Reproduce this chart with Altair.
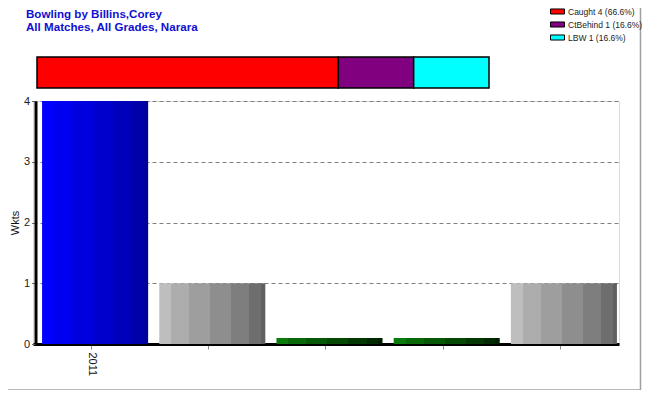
import altair as alt
import pandas as pd

categories = ["2011", " ", "  ", "   ", "    "]
wickets = [4, 1, 0.1, 0.1, 1]
blue_cats = ["2011"]
gray_cats = [" ", "    "]
green_cats = ["  ", "   "]

dismissal_labels = ["Caught 4 (66.6%)", "CtBehind 1 (16.6%)", "LBW 1 (16.6%)"]
dismissal_counts = [4, 1, 1]
dismissal_colors = ["#FF0000", "#800080", "#00FFFF"]

title_lines = ["Bowling by Billins,Corey", "All Matches, All Grades, Narara"]

FONT = "Liberation Sans"

bars = pd.DataFrame({"cat": categories, "wkts": wickets})
dis = pd.DataFrame({"kind": dismissal_labels, "n": dismissal_counts,
                    "order": list(range(len(dismissal_labels)))})


def stepped(colors, offsets):
    stops = []
    for i, c in enumerate(colors):
        stops.append(alt.GradientStop(offset=offsets[i], color=c))
        stops.append(alt.GradientStop(offset=offsets[i + 1], color=c))
    return alt.LinearGradient(gradient="linear", stops=stops, x1=0, x2=1, y1=0, y2=0)


offs = [0, 0.113, 0.283, 0.481, 0.679, 0.849, 0.959, 1]
blue_grad = stepped(["#0000FF", "#0000F0", "#0000DE", "#0000CC", "#0000BA", "#0000AA", "#00009C"], offs)
gray_grad = stepped(["#BEBEBE", "#ADADAD", "#9E9E9E", "#8E8E8E", "#7E7E7E", "#6E6E6E", "#606060"], offs)
green_grad = stepped(["#0A7A0A", "#076907", "#055805", "#044804", "#033803", "#022A02", "#011E01"], offs)

x_enc = alt.X(
    "cat:N", sort=categories,
    scale=alt.Scale(paddingInner=0.095, paddingOuter=0.0475),
    axis=alt.Axis(title=None, labelAngle=90, labelFontSize=11, labelColor="#111",
                  labelFont=FONT, domainColor="black", domainWidth=3,
                  tickColor="#888", tickSize=5, labelPadding=3, grid=False),
)
y_enc = alt.Y(
    "wkts:Q", scale=alt.Scale(domain=[0, 4], nice=False),
    axis=alt.Axis(title="Wkts", values=[0, 1, 2, 3, 4], format="d", grid=True,
                  gridDash=[4, 3], gridColor="#808080", gridWidth=1,
                  domainColor="black", domainWidth=3, tickColor="#666",
                  tickSize=4, offset=-2.5, labelFontSize=11, labelColor="#222",
                  labelFont=FONT, titleFont=FONT, titleFontSize=11,
                  titleFontWeight="normal", titleColor="#111", titlePadding=3),
)

base = alt.Chart(bars)
blue = base.mark_bar(color=blue_grad, xOffset=3.5).encode(x=x_enc, y=y_enc).transform_filter(
    alt.FieldOneOfPredicate(field="cat", oneOf=blue_cats))
gray = base.mark_bar(color=gray_grad, xOffset=3.5).encode(x=x_enc, y=y_enc).transform_filter(
    alt.FieldOneOfPredicate(field="cat", oneOf=gray_cats))
green = base.mark_bar(color=green_grad, xOffset=3.5).encode(x=x_enc, y=y_enc).transform_filter(
    alt.FieldOneOfPredicate(field="cat", oneOf=green_cats))

main = alt.layer(blue, gray, green)

stack = alt.Chart(dis).transform_stack(
    stack="n", groupby=[], as_=["x0", "x1"], sort=[alt.SortField("order", "ascending")]
).mark_bar(stroke="black", strokeWidth=1.5).encode(
    x=alt.X("x0:Q", scale=alt.Scale(domain=[0, 6], range=[4, 456]), axis=None),
    x2="x1:Q",
    y=alt.value(-44), y2=alt.value(-13),
    color=alt.Color("kind:N", sort=dismissal_labels,
                    scale=alt.Scale(domain=dismissal_labels, range=dismissal_colors),
                    legend=alt.Legend(title=None, orient="none", legendX=517, legendY=-97,
                                      symbolType="M-1,-0.36H1V0.36H-1Z", symbolSize=196,
                                      symbolStrokeColor="black", symbolStrokeWidth=1,
                                      labelFontSize=8.5, labelFont=FONT, labelOffset=3,
                                      rowPadding=0, labelColor="#222")),
)

t1 = alt.Chart(pd.DataFrame({"t": [title_lines[0]]})).mark_text(
    align="left", baseline="alphabetic", font=FONT, fontSize=11.6, fontWeight="bold",
    color="#1010D0").encode(text="t:N", x=alt.value(-7), y=alt.value(-83))
t2 = alt.Chart(pd.DataFrame({"t": [title_lines[1]]})).mark_text(
    align="left", baseline="alphabetic", font=FONT, fontSize=11.6, fontWeight="bold",
    color="#1010D0").encode(text="t:N", x=alt.value(-7), y=alt.value(-70))

border_r = alt.Chart(pd.DataFrame({"a": [0]})).mark_rule(color="#A0A0A0", strokeWidth=1.5).encode(
    x=alt.value(607.5), y=alt.value(-95), y2=alt.value(289))
border_b = alt.Chart(pd.DataFrame({"a": [0]})).mark_rule(color="#A0A0A0", strokeWidth=1.5).encode(
    x=alt.value(-27), x2=alt.value(607.5), y=alt.value(289))

chart = alt.layer(main, stack, t1, t2, border_r, border_b).resolve_scale(
    x="independent", y="independent"
).properties(
    width=586, height=243,
    autosize=alt.AutoSizeParams(type="none"),
    padding={"left": 25, "top": 93, "right": 23, "bottom": 46},
).configure_view(stroke=None).configure(font=FONT)

chart.save("out.html", embed_options={"renderer": "svg", "actions": False})
